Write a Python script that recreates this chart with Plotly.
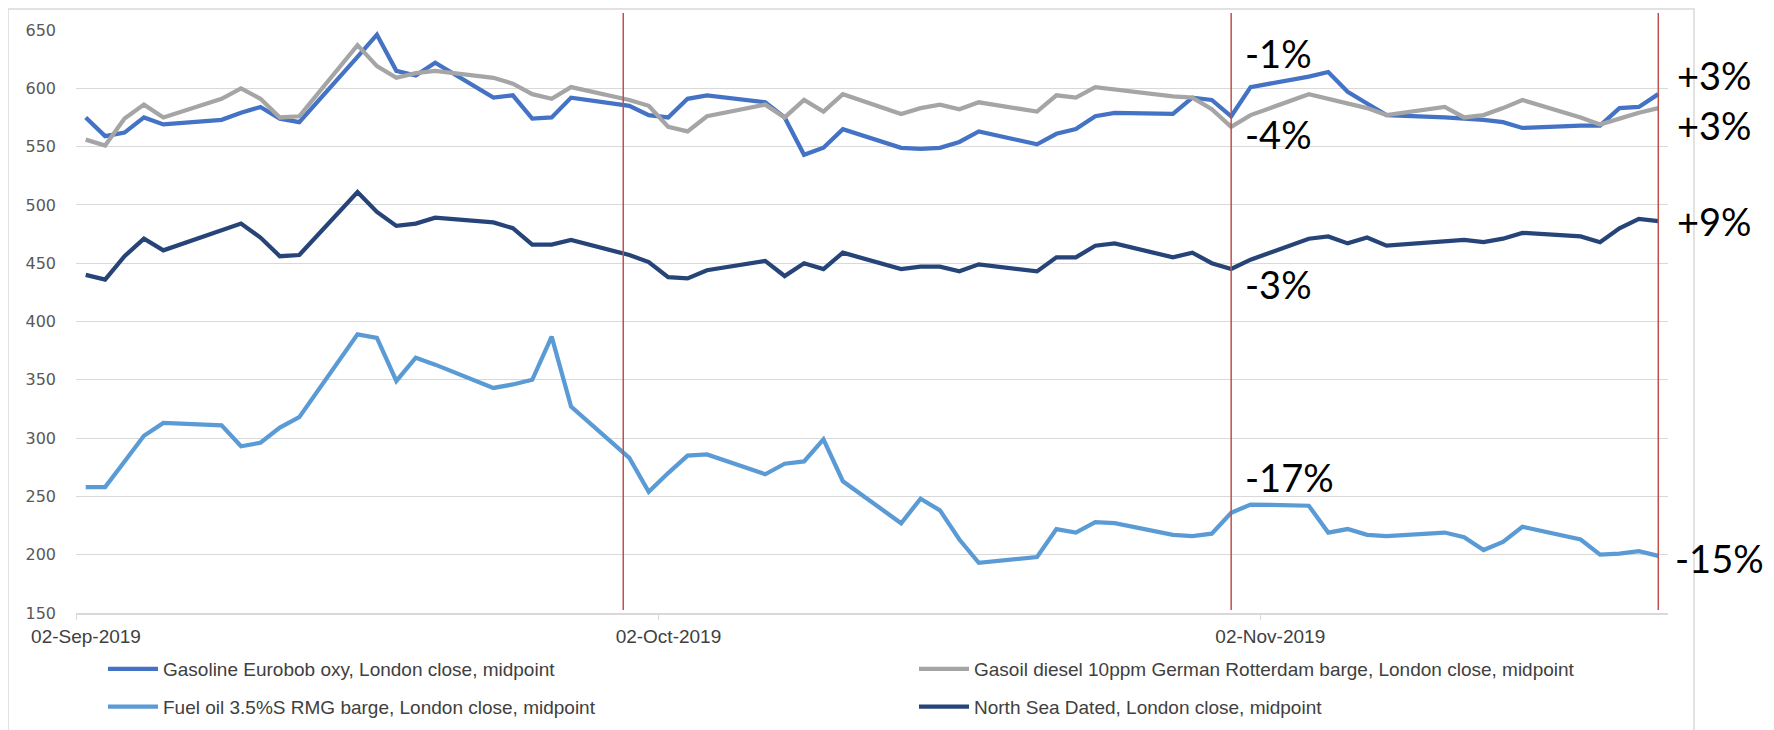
import pandas as pd
import plotly.graph_objects as go

# London close midpoints, USD/t, one value per business day
dates = [
    "2019-09-02", "2019-09-03", "2019-09-04", "2019-09-05", "2019-09-06",
    "2019-09-09", "2019-09-10", "2019-09-11", "2019-09-12", "2019-09-13",
    "2019-09-16", "2019-09-17", "2019-09-18", "2019-09-19", "2019-09-20",
    "2019-09-23", "2019-09-24", "2019-09-25", "2019-09-26", "2019-09-27",
    "2019-09-30", "2019-10-01", "2019-10-02", "2019-10-03", "2019-10-04",
    "2019-10-07", "2019-10-08", "2019-10-09", "2019-10-10", "2019-10-11",
    "2019-10-14", "2019-10-15", "2019-10-16", "2019-10-17", "2019-10-18",
    "2019-10-21", "2019-10-22", "2019-10-23", "2019-10-24", "2019-10-25",
    "2019-10-28", "2019-10-29", "2019-10-30", "2019-10-31", "2019-11-01",
    "2019-11-04", "2019-11-05", "2019-11-06", "2019-11-07", "2019-11-08",
    "2019-11-11", "2019-11-12", "2019-11-13", "2019-11-14", "2019-11-15",
    "2019-11-18", "2019-11-19", "2019-11-20", "2019-11-21", "2019-11-22",
]

gasoline = [
    575, 559, 562, 575, 569,
    573, 579, 584, 574, 571,
    627, 646, 615, 611, 622,
    592, 594, 574, 575, 592,
    585, 577, 575, 591, 594,
    588, 575, 543, 549, 565,
    549, 548, 549, 554, 563,
    552, 561, 565, 576, 579,
    578, 592, 590, 576, 601,
    610, 614, 597, 587, 577,
    575, 574, 573, 571, 566,
    568, 568, 583, 584, 595,
]
gasoil = [
    556, 551, 574, 586, 575,
    591, 600, 591, 575, 576,
    637, 619, 609, 613, 615,
    609, 604, 595, 591, 601,
    590, 585, 567, 563, 576,
    586, 575, 590, 580, 595,
    578, 583, 586, 582, 588,
    580, 594, 592, 601, 599,
    593, 592, 582, 567, 577,
    595, 591, 587, 583, 577,
    584, 575, 577, 583, 590,
    575, 569, 574, 579, 583,
]
fuel_oil = [
    258, 258, 280, 302, 313,
    311, 293, 296, 309, 318,
    389, 386, 349, 369, 363,
    343, 346, 350, 387, 327,
    283, 254, 270, 285, 286,
    269, 278, 280, 299, 263,
    227, 248, 238, 213, 193,
    198, 222, 219, 228, 227,
    217, 216, 218, 236, 243,
    242, 219, 222, 217, 216,
    219, 215, 204, 211, 224,
    213, 200, 201, 203, 199,
]
north_sea = [
    440, 436, 456, 471, 461,
    478, 484, 472, 456, 457,
    511, 494, 482, 484, 489,
    485, 480, 466, 466, 470,
    457, 451, 438, 437, 444,
    452, 439, 450, 445, 459,
    445, 447, 447, 443, 449,
    443, 455, 455, 465, 467,
    455, 459, 450, 445, 453,
    471, 473, 467, 472, 465,
    469, 470, 468, 471, 476,
    473, 468, 480, 488, 486,
]

series = [
    ("Gasoline Eurobob oxy, London close, midpoint", gasoline, "#4472C4", "legend"),
    ("Gasoil diesel 10ppm German Rotterdam barge, London close, midpoint", gasoil, "#A5A5A5", "legend2"),
    ("Fuel oil 3.5%S RMG barge, London close, midpoint", fuel_oil, "#5B9BD5", "legend"),
    ("North Sea Dated, London close, midpoint", north_sea, "#264478", "legend2"),
]

tick_dates = ["2019-09-02", "2019-10-02", "2019-11-02"]
tick_text = ["02-Sep-2019", "02-Oct-2019", "02-Nov-2019"]

# month-on-month change labels: (text, left x in px, value at label centre)
change_labels = [
    ("-1%", 1243, 630.7), ("-4%", 1243, 560.5), ("-3%", 1243, 432.0), ("-17%", 1243, 267.0),
    ("+3%", 1675, 611.4), ("+3%", 1675, 568.5), ("+9%", 1675, 486.6), ("-15%", 1673, 197.5),
]
# comparison dates marked with red verticals
marker_dates = ["2019-09-30 04:30", "2019-10-31 12:00", "2019-11-22 12:00"]

# page pixels; the page body adds an 8 px margin round the figure
PAGE_W, PAGE_H, OFF = 1774, 730, 8
PLOT_L, PLOT_R, PLOT_T, PLOT_B = 76, 1668, 30, 613
FIG_H = 740  # a little taller than the window so the legend never pushes the margins


def px_x(px):
    return (px - PLOT_L) / (PLOT_R - PLOT_L)


def px_y(py):
    return (PLOT_B - py) / (PLOT_B - PLOT_T)


# Excel date axis centres each point in the middle of its day
x = pd.to_datetime(dates) + pd.Timedelta(hours=12)

fig = go.Figure()
for i, (name, values, color, legend) in enumerate(series):
    fig.add_trace(go.Scatter(
        x=x, y=values, mode="lines", name=name,
        line=dict(color=color, width=4.25),
        legend=legend, legendgroup=f"g{i}",
    ))

for d in marker_dates:
    fig.add_shape(type="line", xref="x", yref="paper",
                  x0=d, x1=d, y0=px_y(610), y1=px_y(13),
                  line=dict(color="#C0504D", width=1.5))

# chart border
fig.add_shape(type="rect", xref="paper", yref="paper",
              x0=px_x(8), x1=px_x(1694), y0=px_y(736), y1=px_y(9),
              line=dict(color="#D9D9D9", width=1.5), layer="below")

for text, px, val in change_labels:
    fig.add_annotation(
        x=px_x(px), xref="paper", y=val, yref="y",
        text=text, showarrow=False, xanchor="left", yanchor="middle",
        font=dict(family="Lato", size=38, color="#000000"),
    )

legend_style = dict(
    orientation="v", xanchor="left", yanchor="top",
    font=dict(family="Liberation Sans", size=19, color="#404040"),
    bgcolor="rgba(0,0,0,0)", tracegroupgap=10, itemwidth=50,
)

fig.update_layout(
    width=PAGE_W - OFF, height=FIG_H,
    margin=dict(l=PLOT_L - OFF, r=PAGE_W - PLOT_R, t=PLOT_T - OFF, b=FIG_H + OFF - PLOT_B),
    paper_bgcolor="white", plot_bgcolor="white",
    showlegend=True,
    legend=dict(x=px_x(103), y=px_y(650), **legend_style),
    legend2=dict(x=px_x(914), y=px_y(650), **legend_style),
    xaxis=dict(
        type="date", range=["2019-09-02", "2019-11-23"],
        tickvals=tick_dates, ticktext=tick_text, ticklabelshift=10,
        ticks="outside", ticklen=5, tickcolor="#D9D9D9",
        showgrid=False, showline=True, linecolor="#D9D9D9", linewidth=1.5,
        tickfont=dict(family="Liberation Sans", size=19, color="#404040"),
    ),
    yaxis=dict(
        range=[150, 650], dtick=50, tick0=150,
        showgrid=True, gridcolor="#D9D9D9", gridwidth=1.25,
        zeroline=False, showline=False, ticks="", ticklabelstandoff=19,
        tickfont=dict(family="DejaVu Sans", size=16, color="#595959"),
    ),
)

fig.write_html("out.html")
